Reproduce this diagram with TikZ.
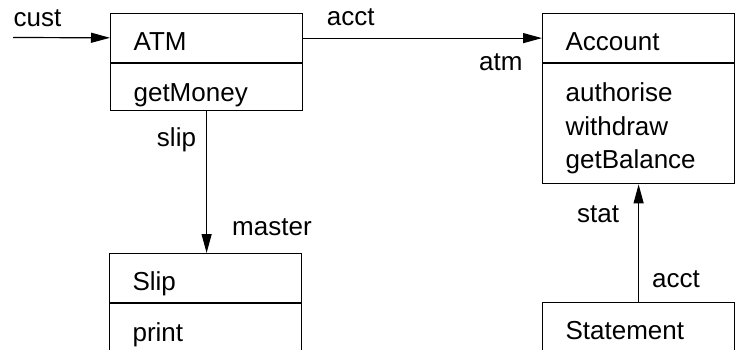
\documentclass[tikz,border=0pt]{standalone}
\usepackage{fontspec}
\setmainfont{Liberation Sans}
\usetikzlibrary{positioning,arrows.meta}

\begin{document}
\begin{tikzpicture}[x=1pt,y=-1pt,font=\fontsize{26}{33.5}\selectfont,line width=1.2pt,
  cname/.style={draw,anchor=north west,inner xsep=23pt,inner ysep=0pt,text width=146pt,align=left,text height=37pt,text depth=12pt},
  cops/.style={draw,below=0pt of #1,inner xsep=23pt,inner ysep=0pt,text width=146pt,align=left,text height=38pt},
  lbl/.style={inner sep=0pt},
  assoc/.style={-{Triangle[length=19pt,width=10pt]}}]
\useasboundingbox (0,0) rectangle (735,349);
\clip (0,0) rectangle (735,349);
% classes
\node[cname] (atm) at (110,13) {ATM};
\node[cops=atm,text depth=9pt] (atmops) {getMoney};
\node[cname] (account) at (542,13) {Account};
\node[cops=account,text depth=82pt] (accountops) {authorise\\withdraw\\getBalance};
\node[cname] (slip) at (109,253) {Slip};
\node[cops=slip,text depth=20pt] (slipops) {print};
\node[cname] (statement) at (542,302) {Statement};
% associations
\coordinate (custin) at (13,37.5);
\draw[assoc] (custin) -- (atm) node[lbl,at start,anchor=base west,yshift=11.5pt] {cust};
\draw[assoc] (atm) -- (account)
  node[lbl,at start,anchor=base west,xshift=23pt,yshift=12.5pt] {acct}
  node[lbl,at end,anchor=base east,xshift=-19pt,yshift=-32.5pt] {atm};
\draw[assoc] (atmops.south) -- (atmops.south |- slip.north)
  node[lbl,at start,anchor=base east,xshift=-10pt,yshift=-35pt] {slip}
  node[lbl,at end,anchor=base west,xshift=25pt,yshift=18pt] {master};
\draw[assoc] (statement) -- (accountops)
  node[lbl,at start,anchor=base west,xshift=13pt,yshift=15pt] {acct}
  node[lbl,at end,anchor=base east,xshift=-19pt,yshift=-38pt] {stat};
\end{tikzpicture}
\end{document}
